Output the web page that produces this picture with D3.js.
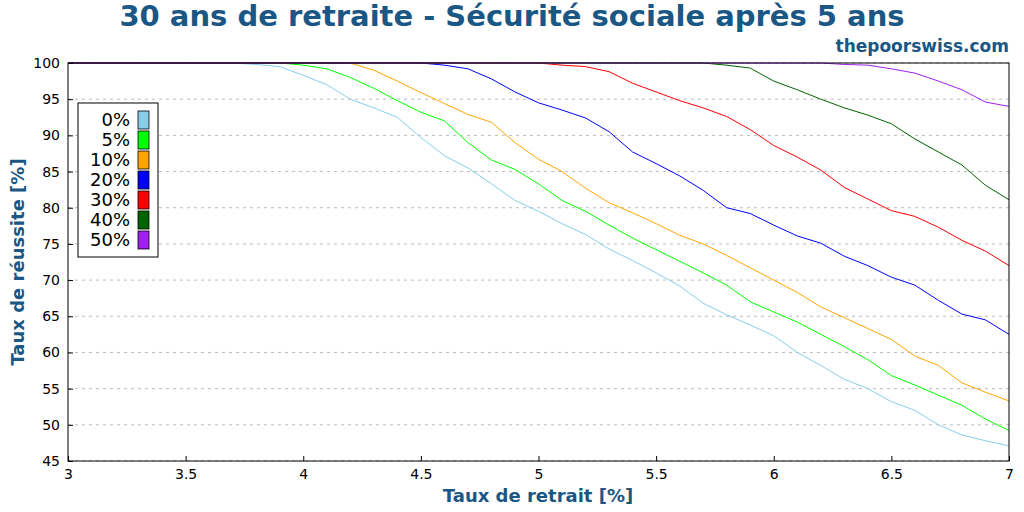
<!DOCTYPE html>
<html><head><meta charset="utf-8">
<script src="https://cdn.jsdelivr.net/npm/d3@7"></script>
<style>body{margin:0;background:#fff}svg{font-family:"DejaVu Sans",sans-serif}</style>
</head><body><svg id="c" width="1024" height="512"></svg>
<script>
const rates = d3.range(30, 71).map(d => d / 10);
const labels = ["0%","5%","10%","20%","30%","40%","50%"];
const colors = ["#87ceeb","#00ff00","#ffa500","#0000ff","#ff0000","#006400","#a020f0"];
const full = n => Array(n).fill(100);
const s0 = full(8).concat([99.8,99.5,98.3,97,95,93.8,92.5,89.7,87.2,85.5,83.3,81,79.5,77.8,76.3,74.3,72.7,71,69.2,66.8,65.2,63.8,62.3,60,58.2,56.3,55,53.2,52,50,48.6,47.8,47.1]);
const s5 = full(10).concat([99.7,99.2,98,96.5,94.8,93.2,92,89,86.6,85.3,83.3,81,79.5,77.6,75.8,74.2,72.6,71,69.3,67,65.6,64.2,62.5,60.8,59,56.8,55.5,54.1,52.7,50.8,49.2]);
const s10 = full(13).concat([99,97.5,95.9,94.4,92.9,91.8,89,86.7,85,82.7,80.7,79.3,77.8,76.2,75,73.4,71.7,70,68.3,66.3,64.8,63.3,61.8,59.5,58.2,55.8,54.5,53.3]);
const s20 = full(16).concat([99.7,99.2,97.8,96,94.5,93.5,92.4,90.5,87.7,86.1,84.4,82.4,80,79.2,77.6,76.1,75.1,73.3,72,70.4,69.3,67.2,65.3,64.5,62.5]);
const s30 = full(21).concat([99.7,99.5,98.8,97.2,96,94.8,93.8,92.6,90.8,88.6,87,85.2,82.8,81.2,79.6,78.8,77.3,75.5,74,72]);
const s40 = full(28).concat([99.7,99.3,97.5,96.3,95,93.8,92.8,91.6,89.5,87.7,85.9,83.1,81.1]);
const s50 = full(33).concat([99.8,99.7,99.2,98.6,97.5,96.3,94.6,94.0]);
const series = [s0,s5,s10,s20,s30,s40,s50];
const xTicks = [3,3.5,4,4.5,5,5.5,6,6.5,7];
const yTicks = d3.range(45, 101, 5);

const svg = d3.select("#c");
const m = {l:68, r:1009, t:63, b:461};
const x = d3.scaleLinear().domain([3,7]).range([m.l, m.r]);
const y = d3.scaleLinear().domain([45,100]).range([m.b, m.t]);
const blue = "#1a5784";

svg.append("g").selectAll("line").data(yTicks).join("line")
  .attr("x1", m.l).attr("x2", m.r).attr("y1", d=>y(d)).attr("y2", d=>y(d))
  .attr("stroke", "#bbb").attr("stroke-dasharray", "3,4");

const line = d3.line().x((d,i)=>x(rates[i])).y(d=>y(d));
series.forEach((s,k)=>svg.append("path").attr("d", line(s)).attr("fill","none").attr("stroke", colors[k]).attr("stroke-width",1));

svg.append("rect").attr("x",m.l).attr("y",m.t).attr("width",m.r-m.l).attr("height",m.b-m.t).attr("fill","none").attr("stroke","#000");

const xa = svg.append("g").attr("transform",`translate(0,${m.b})`).call(d3.axisBottom(x).tickValues(xTicks).tickFormat(d3.format("")).tickSizeOuter(0).tickSize(5));
const ya = svg.append("g").attr("transform",`translate(${m.l},0)`).call(d3.axisLeft(y).tickValues(yTicks).tickSizeOuter(0).tickSize(5));
[xa,ya].forEach(a=>{a.selectAll("text").attr("font-size",14).attr("fill","#000").style("font-family","DejaVu Sans");a.select(".domain").remove();});
xa.selectAll(".tick line").attr("transform","translate(0,-5)");
ya.selectAll(".tick line").attr("transform","translate(5,0)");

svg.append("text").attr("x",512).attr("y",26).attr("text-anchor","middle").attr("font-size",29).attr("font-weight","bold").attr("fill",blue).text("30 ans de retraite - Sécurité sociale après 5 ans");
svg.append("text").attr("x",1009).attr("y",52).attr("text-anchor","end").attr("font-size",17).attr("font-weight","bold").attr("fill",blue).text("thepoorswiss.com");
svg.append("text").attr("x",538).attr("y",502).attr("text-anchor","middle").attr("font-size",18).attr("font-weight","bold").attr("fill",blue).text("Taux de retrait [%]");
svg.append("text").attr("transform","translate(24,262) rotate(-90)").attr("text-anchor","middle").attr("font-size",18).attr("font-weight","bold").attr("fill",blue).text("Taux de réussite [%]");

const lg = svg.append("g");
lg.append("rect").attr("x",78).attr("y",103).attr("width",80).attr("height",154).attr("fill","#fff").attr("stroke","#000");
labels.forEach((l,i)=>{
  const yy = 120 + i*20;
  lg.append("text").attr("x",130).attr("y",yy+6).attr("text-anchor","end").attr("font-size",18).text(l);
  lg.append("rect").attr("x",138).attr("y",yy-9).attr("width",11).attr("height",18).attr("fill",colors[i]).attr("stroke","#000").attr("stroke-width",0.8);
});
</script></body></html>
